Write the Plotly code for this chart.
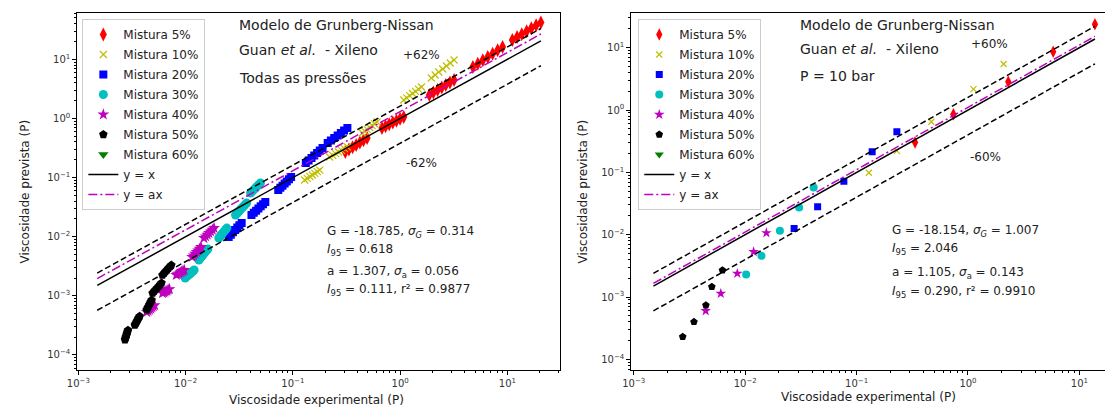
import plotly.graph_objects as go

W, H = 1105, 410

# ---------------- Left panel: all pressures (one row per streak) ----------------
L5_x = [0.308, 0.333, 0.36, 0.389, 0.421, 0.455, 0.492,
        0.676, 0.731, 0.79, 0.854, 0.923, 0.998, 1.08,
        1.87, 2.04, 2.23, 2.44, 2.66, 2.91, 3.18,
        4.76, 5.29, 5.89, 6.55, 7.28, 8.1, 9.01,
        11.1, 12.3, 13.6, 15.1, 16.7, 18.5, 20.5]
L5_y = [0.271, 0.297, 0.325, 0.356, 0.39, 0.427, 0.467,
        0.69, 0.741, 0.796, 0.855, 0.918, 0.986, 1.06,
        2.49, 2.74, 3.02, 3.33, 3.67, 4.05, 4.47,
        7.41, 8.43, 9.6, 10.9, 12.4, 14.2, 16.1,
        21.2, 23.8, 26.6, 29.9, 33.5, 37.5, 42.0]
L10_x = [0.129, 0.136, 0.144, 0.152, 0.160, 0.169, 0.178,
         0.22, 0.235, 0.25, 0.266, 0.284, 0.302, 0.322,
         0.443, 0.467, 0.492, 0.519, 0.547, 0.577, 0.608,
         1.08, 1.15, 1.225, 1.305, 1.39, 1.48, 1.58,
         1.95, 2.12, 2.29, 2.49, 2.7, 2.93, 3.18]
L10_y = [0.091, 0.0971, 0.1036, 0.1105, 0.1179, 0.1258, 0.134,
         0.223, 0.238, 0.254, 0.271, 0.289, 0.308, 0.329,
         0.568, 0.61, 0.655, 0.704, 0.756, 0.811, 0.871,
         2.05, 2.23, 2.43, 2.64, 2.87, 3.13, 3.4,
         4.83, 5.43, 6.1, 6.86, 7.71, 8.67, 9.72]
L20_x = [0.0252, 0.0264, 0.0276, 0.0289, 0.0303, 0.0317, 0.0333,
         0.0411, 0.0432, 0.0454, 0.0477, 0.0501, 0.0527, 0.0553,
         0.073, 0.0764, 0.08, 0.0838, 0.0877, 0.0919, 0.0962,
         0.132, 0.140, 0.149, 0.158, 0.168, 0.178, 0.189,
         0.211, 0.226, 0.243, 0.261, 0.28, 0.3, 0.322]
L20_y = [0.00988, 0.01083, 0.01187, 0.013, 0.01425, 0.0156, 0.0171,
         0.0233, 0.0254, 0.0276, 0.03, 0.0327, 0.0355, 0.0386,
         0.0617, 0.0671, 0.0729, 0.0793, 0.0862, 0.0937, 0.102,
         0.177, 0.195, 0.215, 0.236, 0.260, 0.287, 0.316,
         0.384, 0.424, 0.467, 0.515, 0.568, 0.626, 0.69]
L30_x = [0.0099, 0.01023, 0.01056, 0.01091, 0.01127, 0.01164, 0.012,
         0.0133, 0.01373, 0.01417, 0.01462, 0.01509, 0.01558, 0.0161,
         0.0204, 0.021, 0.0216, 0.0222, 0.0229, 0.0235, 0.0242,
         0.0292, 0.0304, 0.0316, 0.0328, 0.0342, 0.0355, 0.037,
         0.0403, 0.0418, 0.0433, 0.0448, 0.0464, 0.0481, 0.0498]
L30_y = [0.002, 0.00211, 0.00222, 0.00233, 0.00246, 0.00259, 0.00273,
         0.00404, 0.00434, 0.00466, 0.005, 0.00537, 0.00577, 0.00619,
         0.0095, 0.01014, 0.01082, 0.01154, 0.01231, 0.01313, 0.014,
         0.0233, 0.0252, 0.0272, 0.0294, 0.0318, 0.0344, 0.0372,
         0.0548, 0.0585, 0.0624, 0.0666, 0.0711, 0.0759, 0.081]
L40_x = [0.00434, 0.00447, 0.0046, 0.00473, 0.00486, 0.005, 0.00514,
         0.00608, 0.00623, 0.00639, 0.00655, 0.00671, 0.00688, 0.00706,
         0.00818, 0.00842, 0.00866, 0.00891, 0.00917, 0.00943, 0.0097,
         0.0115, 0.01187, 0.01225, 0.01264, 0.01305, 0.01347, 0.0139,
         0.0148, 0.01535, 0.01591, 0.0165, 0.01711, 0.01774, 0.0184]
L40_y = [0.000532, 0.000556, 0.000582, 0.000609, 0.000637, 0.000667, 0.000698,
         0.00111, 0.00114, 0.00117, 0.0012, 0.00123, 0.00127, 0.0013,
         0.00225, 0.00232, 0.0024, 0.00248, 0.00256, 0.00264, 0.00273,
         0.00454, 0.00484, 0.00517, 0.00551, 0.00588, 0.00627, 0.00669,
         0.0095, 0.01014, 0.01082, 0.01154, 0.01231, 0.01313, 0.014]
L50_x = [0.00272, 0.00275, 0.00278, 0.00281, 0.00284, 0.00287, 0.0029,
         0.00336, 0.00342, 0.00348, 0.00354, 0.0036, 0.00366, 0.00373,
         0.00434, 0.00442, 0.0045, 0.00458, 0.00466, 0.00474, 0.00482,
         0.00492, 0.00508, 0.00525, 0.00542, 0.0056, 0.00578, 0.00596,
         0.00608, 0.00628, 0.00648, 0.00668, 0.0069, 0.00713, 0.00736]
L50_y = [0.00018, 0.000192, 0.000204, 0.000217, 0.000231, 0.000246, 0.000262,
         0.00032, 0.000339, 0.000359, 0.00038, 0.000403, 0.000427, 0.000452,
         0.00058, 0.000618, 0.000659, 0.000703, 0.000749, 0.000798, 0.00085,
         0.00111, 0.00119, 0.00127, 0.00135, 0.00144, 0.00154, 0.00165,
         0.00225, 0.0024, 0.00256, 0.00273, 0.00292, 0.00311, 0.00332]
L60_x = [None]
L60_y = [None]
L_line_x = [0.0015, 20.5]
L_a = 1.307
L_band = 0.62

# ---------------- Right panel: P = 10 bar ----------------
R5_x = [13.8, 5.82, 2.30, 0.74, 0.335]
R5_y = [23.8, 8.63, 2.84, 0.853, 0.303]
R10_x = [2.09, 1.12, 0.469, 0.230, 0.129]
R10_y = [5.47, 2.17, 0.649, 0.222, 0.0986]
R20_x = [0.230, 0.138, 0.0769, 0.0447, 0.0275]
R20_y = [0.449, 0.214, 0.0724, 0.0281, 0.0126]
R30_x = [0.0412, 0.0305, 0.0205, 0.0140, 0.0102]
R30_y = [0.0574, 0.0274, 0.01156, 0.00458, 0.00231]
R40_x = [0.0155, 0.0119, 0.0085, 0.00604, 0.00442]
R40_y = [0.0107, 0.00532, 0.00239, 0.00114, 0.000601]
R50_x = [0.00625, 0.00502, 0.00444, 0.00347, 0.00275]
R50_y = [0.0027, 0.00146, 0.000741, 0.0004, 0.00023]
R60_x = [None]
R60_y = [None]
R_line_x = [0.0015, 13.8]
R_a = 1.105
R_band = 0.60

labels = ["Mistura 5%", "Mistura 10%", "Mistura 20%", "Mistura 30%",
          "Mistura 40%", "Mistura 50%", "Mistura 60%"]

FONT = "DejaVu Sans"
styles = [
    dict(symbol="diamond-tall", color="#ff0000", size=9),
    dict(symbol="x-thin-open", color="#bfbf00", size=6, line=dict(color="#bfbf00", width=1.2)),
    dict(symbol="square", color="#0000ff", size=7),
    dict(symbol="circle", color="#00bfbf", size=8),
    dict(symbol="star", color="#bf00bf", size=8),
    dict(symbol="pentagon", color="#000000", size=8),
    dict(symbol="triangle-down", color="#008000", size=8),
]

fig = go.Figure()

def add_panel(series, line_x, a, band, xa, ya, legend, sizes_up):
    for i, ((xs, ys), lab, st) in enumerate(zip(series, labels, styles)):
        m = dict(st)
        m["size"] = st["size"] + sizes_up
        fig.add_trace(go.Scatter(x=xs, y=ys, mode="markers", name=lab, legendgroup=legend + str(i),
                                 marker=m, xaxis=xa, yaxis=ya, legend=legend))
    fig.add_trace(go.Scatter(x=line_x, y=[1.0 * v for v in line_x], mode="lines",
                             name="y = x", legendgroup=legend + "lx",
                             line=dict(color="black", width=1.5),
                             xaxis=xa, yaxis=ya, legend=legend))
    fig.add_trace(go.Scatter(x=line_x, y=[a * v for v in line_x], mode="lines",
                             name="y = ax", legendgroup=legend + "la",
                             line=dict(color="#bf00bf", width=1.5, dash="9px,3px,2px,3px"),
                             xaxis=xa, yaxis=ya, legend=legend))
    for f in (1 + band, 1 - band):
        fig.add_trace(go.Scatter(x=line_x, y=[f * v for v in line_x], mode="lines",
                                 showlegend=False, line=dict(color="black", width=1.5, dash="6px,3px"),
                                 xaxis=xa, yaxis=ya))

add_panel([(L5_x, L5_y), (L10_x, L10_y), (L20_x, L20_y), (L30_x, L30_y),
           (L40_x, L40_y), (L50_x, L50_y), (L60_x, L60_y)], L_line_x, L_a, L_band, "x", "y", "legend", 1)
add_panel([(R5_x, R5_y), (R10_x, R10_y), (R20_x, R20_y), (R30_x, R30_y),
           (R40_x, R40_y), (R50_x, R50_y), (R60_x, R60_y)], R_line_x, R_a, R_band, "x2", "y2", "legend2", 0)

def sup(k):
    return "10<sup>" + str(k).replace("-", "\u2212") + "</sup>"

minor_vals = [m * 10.0 ** k for k in range(-5, 3) for m in range(2, 10)]

def axis(dom, rng, majors, mirror, anchor):
    return dict(type="log", domain=dom, range=rng, anchor=anchor, showgrid=False, zeroline=False,
                showline=True, linecolor="black", linewidth=1, mirror=mirror,
                ticks="outside", ticklen=4, tickwidth=1, tickcolor="black",
                tickmode="array", tickvals=[10.0 ** k for k in majors],
                ticktext=[sup(k) for k in majors],
                tickfont=dict(family=FONT, size=10, color="#333333"),
                minor=dict(tickvals=minor_vals, ticks="outside", ticklen=2, tickcolor="black", tickwidth=0.8))

ydom = [1 - 370 / H, 1 - 13.3 / H]
leg = dict(xanchor="left", yanchor="top", bgcolor="white", bordercolor="#cccccc", borderwidth=1,
           tracegroupgap=1, font=dict(family=FONT, size=12, color="#222222"))
fig.update_layout(
    width=W, height=H, margin=dict(l=0, r=0, t=0, b=0),
    paper_bgcolor="white", plot_bgcolor="white",
    font=dict(family=FONT, color="#222222"),
    xaxis=axis([67.9 / W, 554.6 / W], [-3.01, 1.486], range(-3, 2), True, "y"),
    yaxis=axis(ydom, [-4.254, 1.778], range(-4, 2), True, "x"),
    xaxis2=axis([627 / W, 1.0], [-3.022, 1.23], range(-3, 2), True, "y2"),
    yaxis2=axis(ydom, [-4.17, 1.552], range(-4, 2), False, "x2"),
    legend=dict(leg, x=73 / W, y=1 - 19 / H),
    legend2=dict(leg, x=634 / W, y=1 - 19 / H),
    showlegend=True,
)

def note(x, y, text, size=12, angle=0, xanchor="left"):
    fig.add_annotation(x=x / W, y=1 - y / H, xref="paper", yref="paper", text=text,
                       showarrow=False, xanchor=xanchor, yanchor="middle", textangle=angle,
                       font=dict(family=FONT, size=size, color="#222222"))

# Left texts
note(228.6, 25, "Modelo de Grunberg-Nissan", 14)
note(228.6, 50, "Guan <i>et al.</i>  - Xileno", 14)
note(228.6, 78, "Todas as pressões", 14)
note(395, 55, "+62%", 12)
note(398, 163, "-62%", 12)
note(318, 231.7, "G = -18.785, <i>σ<sub>G</sub></i> = 0.314", 12)
note(318, 250, "<i>I</i><sub>95</sub> = 0.618", 12)
note(318, 271.7, "a = 1.307, <i>σ</i><sub>a</sub> = 0.056", 12)
note(318, 290, "<i>I</i><sub>95</sub> = 0.111, r² = 0.9877", 12)
# Right texts
note(795.7, 25, "Modelo de Grunberg-Nissan", 14)
note(795.7, 49, "Guan <i>et al.</i>  - Xileno", 14)
note(795.7, 76, "P = 10 bar", 14)
note(968, 44, "+60%", 12)
note(967, 157, "-60%", 12)
note(888.5, 230.7, "G = -18.154, <i>σ<sub>G</sub></i> = 1.007", 12)
note(888.5, 249, "<i>I</i><sub>95</sub> = 2.046", 12)
note(888.5, 272.7, "a = 1.105, <i>σ</i><sub>a</sub> = 0.143", 12)
note(888.5, 291.7, "<i>I</i><sub>95</sub> = 0.290, r² = 0.9910", 12)
# Axis titles
note(309, 400, "Viscosidade experimental (P)", 12, xanchor="center")
note(866, 397, "Viscosidade experimental (P)", 12, xanchor="center")
note(15, 191.7, "Viscosidade prevista (P)", 12, angle=-90, xanchor="center")
note(578, 191.7, "Viscosidade prevista (P)", 12, angle=-90, xanchor="center")

fig.write_html("out.html")
